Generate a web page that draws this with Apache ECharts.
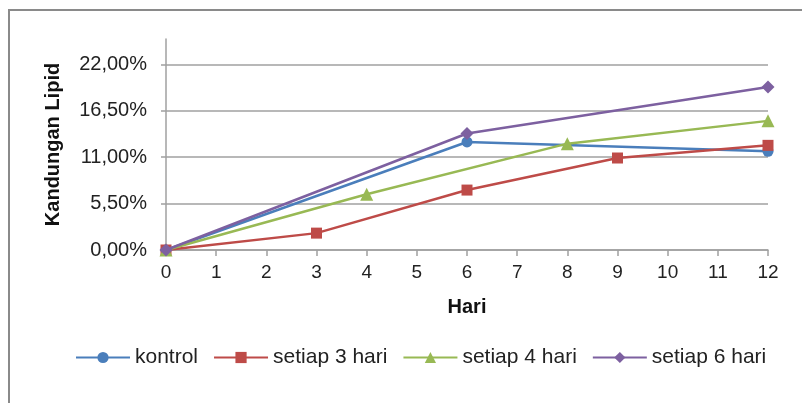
<!DOCTYPE html>
<html>
<head>
<meta charset="utf-8">
<script src="https://cdn.jsdelivr.net/npm/echarts@6/dist/echarts.min.js"></script>
<style>
  html, body { margin: 0; padding: 0; background: #fff; }
  #chart { width: 802px; height: 403px; }
</style>
</head>
<body>
<div id="chart"></div>
<script>
// Lipid content (%) measured on each sampling day
const seriesNames = ['kontrol', 'setiap 3 hari', 'setiap 4 hari', 'setiap 6 hari'];
const kontrol = [[0, 0], [6, 12.8], [12, 11.7]];
const setiap3 = [[0, 0], [3, 2.0], [6, 7.1], [9, 10.9], [12, 12.4]];
const setiap4 = [[0, 0], [4, 6.6], [8, 12.6], [12, 15.3]];
const setiap6 = [[0, 0], [6, 13.8], [12, 19.3]];
const yTicks = [0, 5.5, 11, 16.5, 22];

const colors = ['#4A7EBB', '#BE4B48', '#98B954', '#7D60A0'];
const symbols = ['circle', 'rect', 'triangle', 'diamond'];
const symbolSizes = [11, 11, 13, 13];
const dataSets = [kontrol, setiap3, setiap4, setiap6];

const fontFamily = '"Liberation Sans", Arial, sans-serif';
const pct = v => v.toFixed(2).replace('.', ',') + '%';

const chart = echarts.init(document.getElementById('chart'), null, { renderer: 'canvas' });

chart.setOption({
  animation: false,
  backgroundColor: '#fff',
  graphic: [{
    type: 'rect',
    shape: { x: 9, y: 10, width: 820, height: 420 },
    style: { fill: 'none', stroke: '#8a8a8a', lineWidth: 2 },
    silent: true
  }],
  grid: { left: 166, right: 34, top: 39, bottom: 153, containLabel: false },
  legend: {
    data: seriesNames,
    bottom: 30,
    left: 70,
    itemWidth: 54,
    itemHeight: 14,
    itemGap: 15,
    textStyle: { fontFamily, fontSize: 21, color: '#222' }
  },
  xAxis: {
    type: 'value',
    min: 0,
    max: 12,
    interval: 1,
    name: 'Hari',
    nameLocation: 'middle',
    nameGap: 47,
    nameTextStyle: { fontFamily, fontSize: 20, fontWeight: 'bold', color: '#111' },
    axisLine: { show: true, lineStyle: { color: '#a0a0a0', width: 1.5 } },
    axisTick: { show: true, inside: false, length: 6, lineStyle: { color: '#a0a0a0', width: 1.5 } },
    axisLabel: { fontFamily, fontSize: 19, color: '#222', margin: 13 },
    splitLine: { show: false }
  },
  yAxis: {
    type: 'value',
    min: 0,
    max: 25,
    interval: 5.5,
    name: 'Kandungan Lipid',
    nameLocation: 'middle',
    nameGap: 103,
    nameTextStyle: { fontFamily, fontSize: 20, fontWeight: 'bold', color: '#111' },
    axisLine: { show: true, lineStyle: { color: '#a0a0a0', width: 1.5 } },
    axisTick: { show: true, length: 5, customValues: yTicks, lineStyle: { color: '#a0a0a0', width: 1.5 } },
    axisLabel: {
      fontFamily, fontSize: 20, color: '#222', margin: 19,
      showMaxLabel: false,
      formatter: v => (yTicks.indexOf(v) >= 0 ? pct(v) : '')
    },
    splitLine: { show: true, lineStyle: { color: '#a0a0a0', width: 1.5 } }
  },
  series: dataSets.map((d, i) => ({
    name: seriesNames[i],
    type: 'line',
    data: d,
    symbol: symbols[i],
    symbolSize: symbolSizes[i],
    showAllSymbol: true,
    lineStyle: { color: colors[i], width: 2.5 },
    itemStyle: { color: colors[i] },
    z: 2 + i
  }))
});
</script>
</body>
</html>
